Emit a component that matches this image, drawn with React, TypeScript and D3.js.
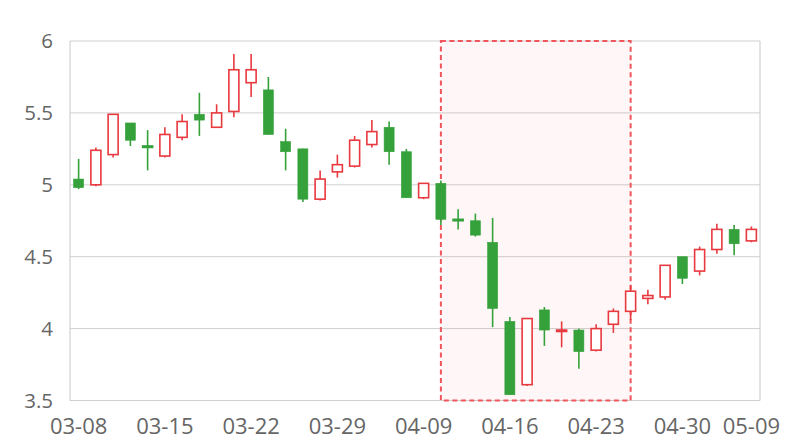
import { useEffect } from 'react'
import * as d3 from 'd3'

const dates = [
  '03-08', '03-11', '03-12', '03-13', '03-14', '03-15',
  '03-18', '03-19', '03-20', '03-21', '03-22',
  '03-25', '03-26', '03-27', '03-28', '03-29',
  '04-01', '04-02', '04-03', '04-08', '04-09',
  '04-10', '04-11', '04-12', '04-15', '04-16',
  '04-17', '04-18', '04-19', '04-22', '04-23',
  '04-24', '04-25', '04-26', '04-29', '04-30',
  '05-06', '05-07', '05-08', '05-09',
]

// open, close, low, high
const opens = [
  5.04, 5.0, 5.21, 5.43, 5.27, 5.2, 5.33, 5.49, 5.4, 5.51, 5.71,
  5.66, 5.3, 5.25, 4.9, 5.09, 5.13, 5.28, 5.4, 5.23, 4.91,
  5.01, 4.76, 4.75, 4.6, 4.05, 3.61, 4.13, 3.98, 3.99, 3.85,
  4.03, 4.12, 4.21, 4.22, 4.5, 4.4, 4.55, 4.69, 4.61,
]
const closes = [
  4.98, 5.24, 5.49, 5.31, 5.26, 5.35, 5.44, 5.45, 5.5, 5.8, 5.8,
  5.35, 5.23, 4.9, 5.04, 5.14, 5.31, 5.37, 5.23, 4.91, 5.01,
  4.76, 4.75, 4.65, 4.14, 3.54, 4.07, 3.99, 3.99, 3.84, 4.0,
  4.12, 4.26, 4.23, 4.44, 4.35, 4.55, 4.69, 4.59, 4.69,
]
const lows = [
  4.97, 4.99, 5.19, 5.27, 5.1, 5.19, 5.31, 5.34, 5.4, 5.47, 5.61,
  5.35, 5.1, 4.88, 4.89, 5.05, 5.12, 5.26, 5.14, 4.91, 4.9,
  4.72, 4.69, 4.64, 4.01, 3.54, 3.6, 3.88, 3.87, 3.72, 3.84,
  3.97, 4.06, 4.17, 4.2, 4.31, 4.37, 4.52, 4.51, 4.6,
]
const highs = [
  5.18, 5.26, 5.49, 5.43, 5.38, 5.4, 5.49, 5.64, 5.56, 5.91, 5.91,
  5.75, 5.39, 5.25, 5.1, 5.21, 5.34, 5.45, 5.44, 5.25, 5.01,
  5.03, 4.83, 4.8, 4.77, 4.08, 4.07, 4.15, 4.05, 4.0, 4.03,
  4.14, 4.3, 4.27, 4.44, 4.5, 4.57, 4.73, 4.72, 4.71,
]

const yTicks = [3.5, 4, 4.5, 5, 5.5, 6]
const markStart = '04-10'
const markEnd = '04-25'

const UP = '#e8393f'
const DOWN = '#35a13b'

export default function App() {
  useEffect(() => {
    document.body.style.margin = '0'
  }, [])

  const width = 800
  const height = 440
  const margin = { top: 41, right: 40, bottom: 39.5, left: 70 }

  const x = d3
    .scaleBand()
    .domain(dates)
    .range([margin.left, width - margin.right])
    .paddingInner(0)
  const y = d3.scaleLinear().domain([3.5, 6]).range([height - margin.bottom, margin.top])

  const bw = x.bandwidth()
  const bodyW = bw * 0.58
  const cx = (d: string) => (x(d) ?? 0) + bw / 2

  // every fifth label plus the last one
  const labelIdx = dates.map((_, i) => i).filter((i) => i % 5 === 0 || i === dates.length - 1)

  const mx0 = cx(markStart)
  const mx1 = cx(markEnd)

  return (
    <svg width={width} height={height} style={{ display: 'block', fontFamily: '"Open Sans", sans-serif' }}>
      {/* grid */}
      {yTicks.map((t) => (
        <line key={t} x1={margin.left} x2={width - margin.right} y1={y(t)} y2={y(t)} stroke="#d0d0d0" strokeWidth={1} />
      ))}
      <line x1={margin.left} x2={margin.left} y1={margin.top} y2={y(3.5)} stroke="#c8c8c8" />
      <line x1={width - margin.right} x2={width - margin.right} y1={margin.top} y2={y(3.5)} stroke="#c8c8c8" />

      {/* highlighted range */}
      <rect
        x={mx0}
        y={y(6)}
        width={mx1 - mx0}
        height={y(3.5) - y(6)}
        fill="rgba(255,60,60,0.04)"
        stroke="#f0555c"
        strokeWidth={2}
        strokeDasharray="5,3.5"
      />

      {/* candles */}
      {dates.map((d, i) => {
        const up = closes[i] > opens[i]
        const color = up ? UP : DOWN
        const top = y(Math.max(opens[i], closes[i]))
        const bot = y(Math.min(opens[i], closes[i]))
        const h = Math.max(bot - top, 1)
        return (
          <g key={d}>
            <line x1={cx(d)} x2={cx(d)} y1={y(highs[i])} y2={y(lows[i])} stroke={color} strokeWidth={1.6} />
            {up ? (
              <rect x={cx(d) - bodyW / 2} y={top} width={bodyW} height={h} fill="#fff" stroke={color} strokeWidth={1.6} />
            ) : (
              <rect x={cx(d) - bodyW / 2} y={top} width={bodyW} height={h} fill={color} stroke={color} strokeWidth={h > 1.5 ? 0.6 : 1.6} />
            )}
          </g>
        )
      })}

      {/* y labels */}
      {yTicks.map((t) => (
        <text key={t} x={53} y={y(t)} dy="0.36em" textAnchor="end" fill="#666" fontSize={20.5}>
          {t}
        </text>
      ))}

      {/* x labels */}
      {labelIdx.map((i) => (
        <text key={i} x={cx(dates[i])} y={433.5} textAnchor="middle" fill="#666" fontSize={22}>
          {dates[i]}
        </text>
      ))}
    </svg>
  )
}
